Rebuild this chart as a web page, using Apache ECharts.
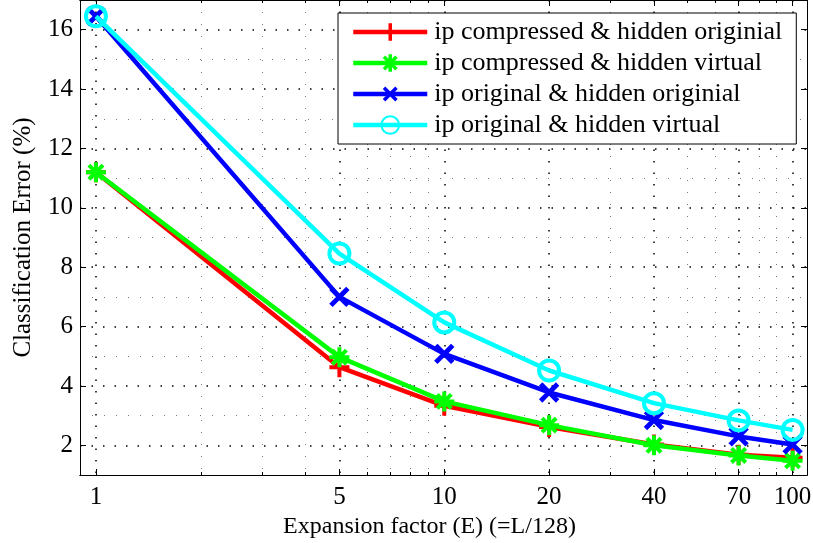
<!DOCTYPE html>
<html>
<head>
<meta charset="utf-8">
<script src="https://cdn.jsdelivr.net/npm/echarts@6/dist/echarts.min.js"></script>
<style>
  html, body { margin: 0; padding: 0; background: #fff; }
  #chart { width: 813px; height: 543px; }
</style>
</head>
<body>
<div id="chart"></div>
<script>
// expansion factors on the x axis
var expansion = [1, 5, 10, 20, 40, 70, 100];
// classification error (%) per series
var compOrig = [11.2, 4.63, 3.33, 2.62, 2.03, 1.68, 1.58];
var compVirt = [11.2, 4.97, 3.48, 2.68, 2.0, 1.66, 1.48];
var origOrig = [16.45, 7.0, 5.08, 3.78, 2.85, 2.3, 2.03];
var origVirt = [16.45, 8.46, 6.14, 4.52, 3.42, 2.84, 2.52];
var names = ['ip compressed & hidden originial', 'ip compressed & hidden virtual',
             'ip original & hidden originial', 'ip original & hidden virtual'];
// ticks
var xMajor = [1, 5, 10, 20, 40, 70, 100];
var xMinor = [2, 3, 4, 6, 7, 8, 9, 30, 50, 60, 80, 90];
var yMajor = [2, 4, 6, 8, 10, 12, 14, 16];
var yMinor = [3, 5, 7, 9, 11, 13, 15];

var serif = 'Liberation Serif';
var plusPath = 'path://M-2,-10L2,-10L2,-2L10,-2L10,2L2,2L2,10L-2,10L-2,2L-10,2L-10,-2L-2,-2Z';
var starPath = 'path://M-10,-2L10,-2L10,2L-10,2Z M-2,-10L2,-10L2,10L-2,10Z' +
  ' M-5.66,-8.49L8.49,5.66L5.66,8.49L-8.49,-5.66Z M-8.49,5.66L5.66,-8.49L8.49,-5.66L-5.66,8.49Z';

function pairs(ys) {
  return expansion.map(function (x, i) { return [x, ys[i]]; });
}

var chart = echarts.init(document.getElementById('chart'));

function xAx(pos, ticks, len, extra) {
  return Object.assign({
    type: 'log', logBase: 10, min: 0.9, max: 110, position: pos,
    axisLine: { show: true, onZero: false, lineStyle: { color: '#000', width: 1 } },
    axisTick: { show: true, inside: true, length: len, customValues: ticks, lineStyle: { color: '#000' } },
    axisLabel: { show: false },
    splitLine: { show: false }
  }, extra || {});
}
function yAx(pos, ticks, len, extra) {
  return Object.assign({
    type: 'value', min: 1, max: 17, interval: 1, position: pos,
    axisLine: { show: true, onZero: false, lineStyle: { color: '#000', width: 1 } },
    axisTick: { show: true, inside: true, length: len, customValues: ticks, lineStyle: { color: '#000' } },
    axisLabel: { show: false },
    splitLine: { show: false }
  }, extra || {});
}

var majorGrid = { show: true, lineStyle: { color: '#000', width: 1.5, type: [1.5, 10] } };
var minorGrid = { show: true, lineStyle: { color: '#777', width: 1, type: [1, 11] } };

var option = {
  animation: false,
  backgroundColor: '#fff',
  grid: { left: 80, right: 6, top: 0, bottom: 68, containLabel: false, outerBoundsMode: 'none' },
  legend: {
    orient: 'vertical', left: 338, top: 13,
    backgroundColor: '#fff', borderColor: '#000', borderWidth: 1,
    padding: [6, 14, 6, 13],
    itemWidth: 74, itemHeight: 22, itemGap: 5,
    lineStyle: { width: 4.5 },
    textStyle: { fontFamily: serif, fontSize: 26, color: '#000', padding: [0, 0, 0, 2] },
    data: names
  },
  xAxis: [
    xAx('bottom', xMajor, 6, {
      name: 'Expansion factor (E) (=L/128)', nameLocation: 'middle', nameGap: 37,
      nameTextStyle: { fontFamily: serif, fontSize: 24, color: '#000', padding: [0, 28, 0, 0] },
      axisLabel: { show: true, customValues: xMajor, margin: 10, fontFamily: serif, fontSize: 25, color: '#000',
        formatter: function (v) { return String(Math.round(v)); } },
      splitLine: majorGrid
    }),
    xAx('top', xMajor, 6),
    xAx('bottom', xMinor, 3, { splitLine: minorGrid }),
    xAx('top', xMinor, 3)
  ],
  yAxis: [
    yAx('left', yMajor, 6, {
      name: 'Classification Error (%)', nameLocation: 'middle', nameGap: 44,
      nameTextStyle: { fontFamily: serif, fontSize: 25, color: '#000' },
      axisLabel: { show: true, customValues: yMajor, margin: 7, fontFamily: serif, fontSize: 25, color: '#000' },
      splitLine: majorGrid
    }),
    yAx('right', yMajor, 6),
    yAx('left', yMinor, 0, { axisTick: { show: false, customValues: yMinor }, splitLine: minorGrid }),
    yAx('right', yMinor, 0, { axisTick: { show: false, customValues: yMinor } })
  ],
  series: [
    {
      name: names[0], type: 'line', data: pairs(compOrig),
      symbol: plusPath, symbolSize: 20,
      lineStyle: { color: '#ff0000', width: 4.5 },
      itemStyle: { color: '#ff0000' }, z: 2
    },
    {
      name: names[1], type: 'line', data: pairs(compVirt),
      symbol: starPath, symbolSize: 20,
      lineStyle: { color: '#00ff00', width: 4.5 },
      itemStyle: { color: '#00ff00' }, z: 3
    },
    {
      name: names[2], type: 'line', data: pairs(origOrig),
      symbol: plusPath, symbolSize: 24, symbolRotate: 45,
      lineStyle: { color: '#0000ff', width: 4.5 },
      itemStyle: { color: '#0000ff' }, z: 4
    },
    {
      name: names[3], type: 'line', data: pairs(origVirt),
      symbol: 'circle', symbolSize: 20,
      lineStyle: { color: '#00ffff', width: 4.5 },
      itemStyle: { color: 'rgba(0,0,0,0)', borderColor: '#00ffff', borderWidth: 4 }, z: 5
    }
  ]
};
chart.setOption(option);
</script>
</body>
</html>
